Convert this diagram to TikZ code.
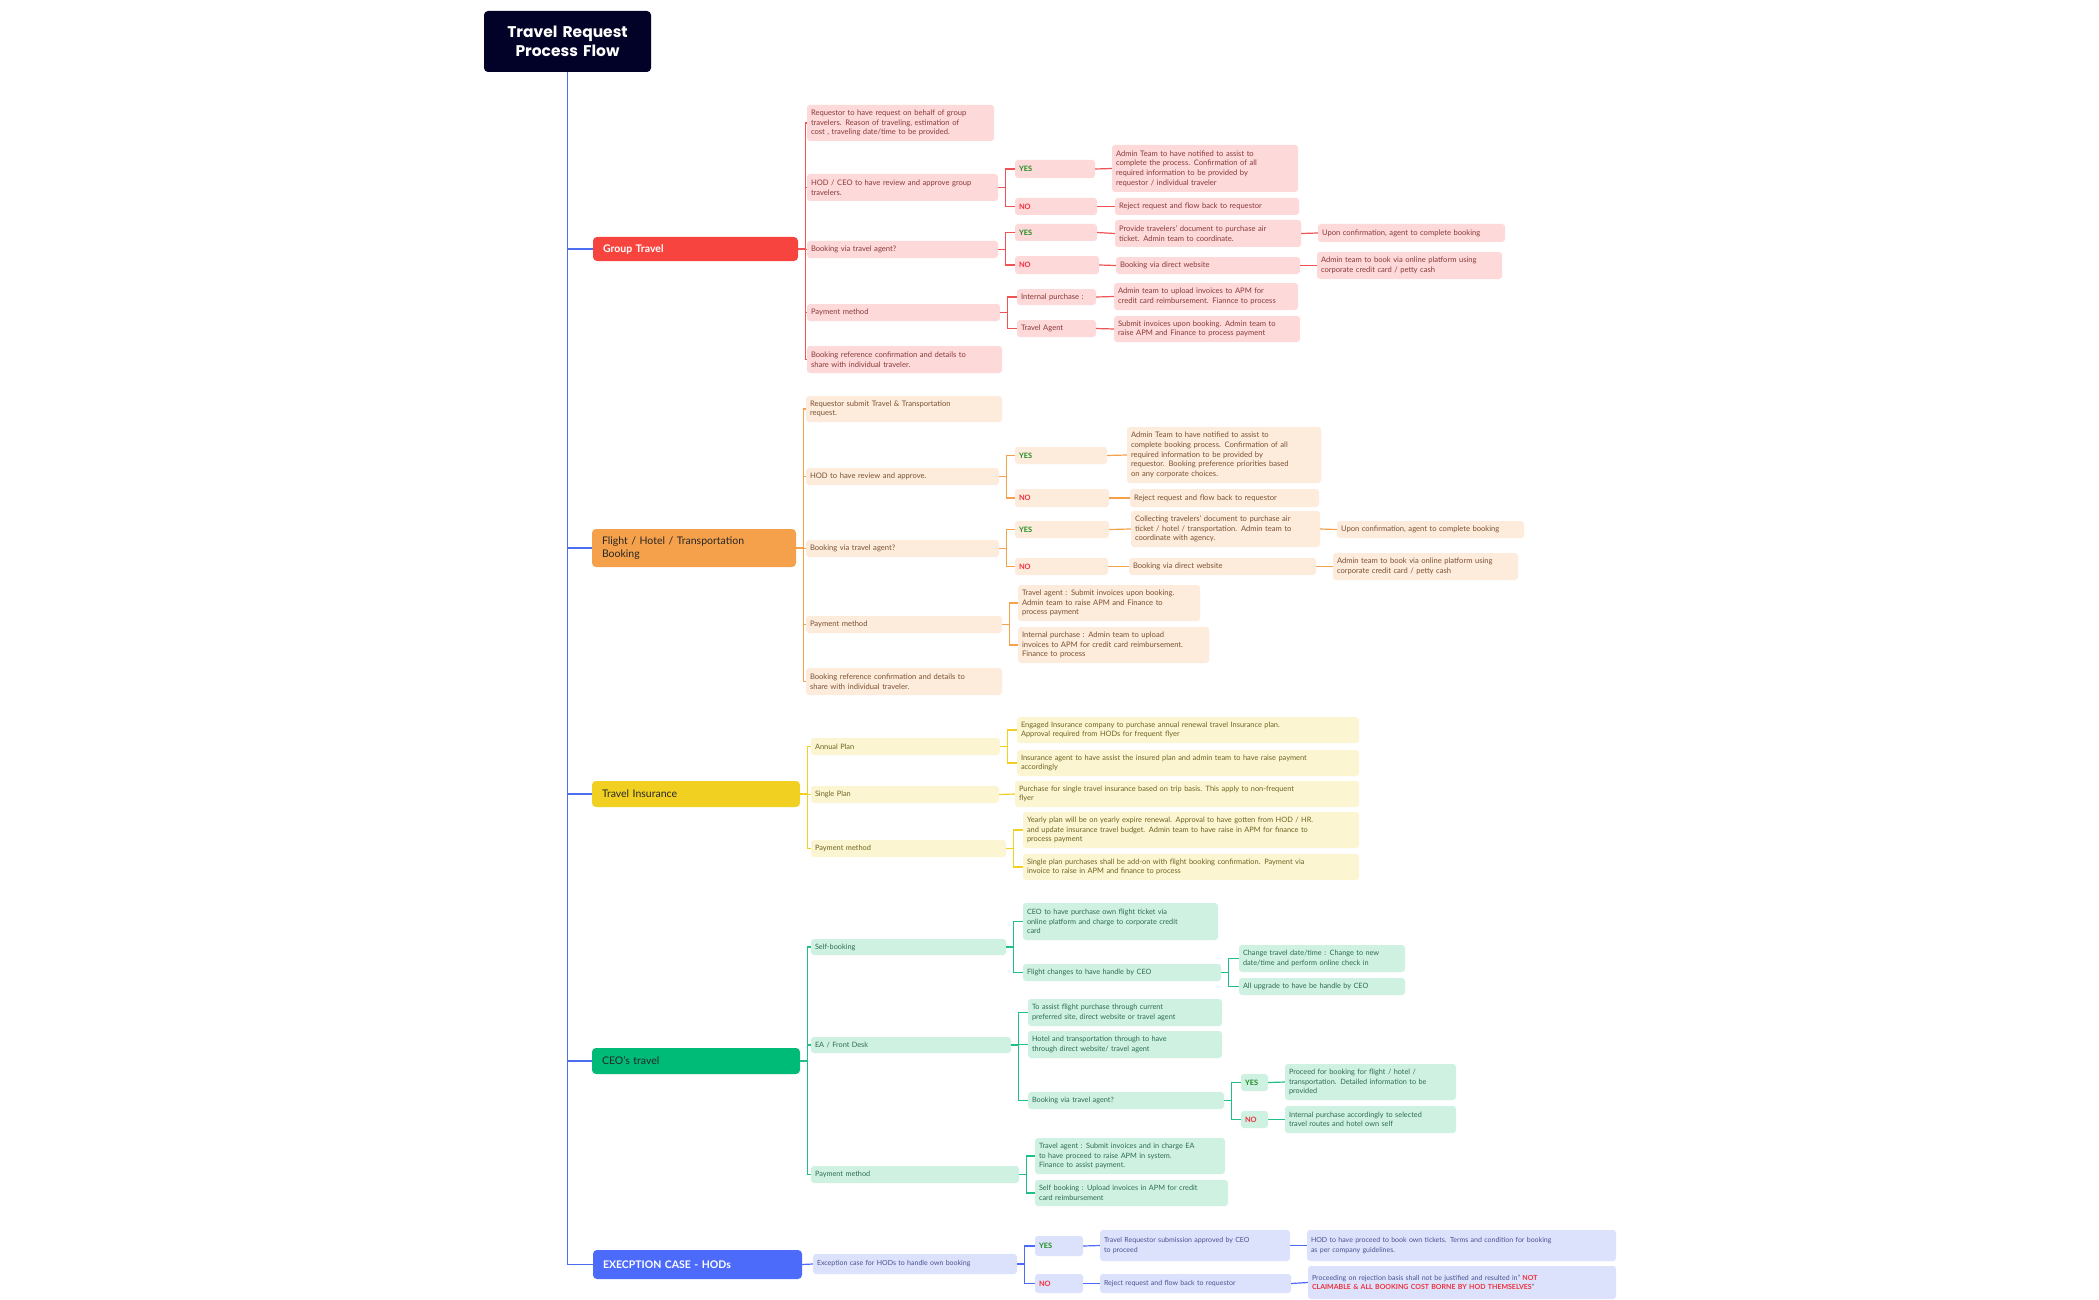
\documentclass[tikz,border=0pt]{standalone}
\usepackage{fontspec}
\setmainfont{Lato}
\newfontfamily\popfont{Poppins}
\definecolor{titlec}{HTML}{020228}
\definecolor{spinec}{HTML}{4B6EF0}
\definecolor{redr}{HTML}{F8443E}\definecolor{redf}{HTML}{FDD9D9}\definecolor{redt}{HTML}{8A3A3A}\definecolor{redl}{HTML}{F05353}
\definecolor{orr}{HTML}{F5A14B}\definecolor{orf}{HTML}{FDEBDC}\definecolor{ort}{HTML}{7A5232}\definecolor{orl}{HTML}{F5A14B}
\definecolor{yer}{HTML}{F2D022}\definecolor{yef}{HTML}{FCF5D2}\definecolor{yet}{HTML}{6E6422}\definecolor{yel}{HTML}{F2D022}
\definecolor{grr}{HTML}{00BA78}\definecolor{grf}{HTML}{CFF1E2}\definecolor{grt}{HTML}{2D6B55}\definecolor{grl}{HTML}{1FBF85}
\definecolor{blr}{HTML}{4D6BFA}\definecolor{blf}{HTML}{DCE2FC}\definecolor{blt}{HTML}{4A5290}\definecolor{bll}{HTML}{4D6BFA}
\definecolor{yesc}{HTML}{1E8C1E}\definecolor{noc}{HTML}{F0303C}
\newcommand\bx[7]{\node[#6, minimum width={(#4-#2)*1pt}, minimum height={(#5-#3)*1pt}, text width={(#4-#2-8)*1pt}] (#1) at ({(#2+#4)/2},{(#3+#5)/2}) {#7};}
\newcommand\lk[3]{\draw[#1] (#2.east) -- ++(7,0) |- (#3.west);}
\newcommand\st[3]{\draw[#1] (#2.east) -- (#3.west);}
\begin{document}
\begin{tikzpicture}[x=1pt,y=-1pt,
  box/.style={rounded corners=3, inner xsep=4, inner ysep=1, align=left, font=\fontsize{7.6}{9.6}\selectfont},
  rb/.style={box, fill=redf, text=redt}, ob/.style={box, fill=orf, text=ort},
  yb/.style={box, fill=yef, text=yet, font=\fontsize{7.4}{9.2}\selectfont},
  gb/.style={box, fill=grf, text=grt, font=\fontsize{7.3}{9.5}\selectfont},
  bb/.style={box, fill=blf, text=blt, font=\fontsize{7}{9.3}\selectfont},
  yesn/.style={font=\fontsize{7.4}{9}\selectfont\bfseries, text=yesc},
  non/.style={font=\fontsize{7.4}{9}\selectfont\bfseries, text=noc},
  root/.style={rounded corners=4, inner xsep=10, inner ysep=1, align=left, font=\fontsize{10.5}{12.5}\selectfont},
  rl/.style={draw=redl, line width=1.2pt}, ol/.style={draw=orl, line width=1.2pt},
  yl/.style={draw=yel, line width=1.2pt}, gl/.style={draw=grl, line width=1.2pt},
  bl/.style={draw=bll, line width=1.2pt}, ml/.style={draw=spinec, line width=1.5pt}]
\useasboundingbox (0,0) rectangle (2099,1300);
\fill[white] (0,0) rectangle (2099,1300);
% title and roots
\bx{title}{484}{11}{651}{72}{rounded corners=4, fill=titlec, text=white, align=center, inner xsep=4, font=\popfont\fontsize{15.5}{19}\selectfont\bfseries}{Travel Request\\Process Flow}
\bx{grp}{599}{237}{792}{261}{root, fill=redr, text=white, font=\fontsize{10.5}{12.5}\selectfont\bfseries}{Group Travel}
\bx{fl}{598}{529}{790}{567}{root, fill=orr, text=black!85}{Flight / Hotel / Transportation\\Booking}
\bx{ins}{598}{781}{794}{807}{root, fill=yer, text=black!85}{Travel Insurance}
\bx{ceo}{598}{1048}{794}{1074}{root, fill=grr, text=black!85}{CEO's travel}
\bx{exc}{599}{1250}{796}{1279}{root, fill=blr, text=white, font=\fontsize{10.5}{12.5}\selectfont\bfseries}{EXECPTION CASE - HODs}
\foreach \r in {grp,fl,ins,ceo,exc}{\draw[ml] (title.south) |- (\r.west);}
% group travel
\bx{g1}{807}{105}{994}{141}{rb}{Requestor to have request on behalf of group\\travelers. Reason of traveling, estimation of\\cost , traveling date/time to be provided.}
\bx{g2}{807}{174}{998}{201}{rb}{HOD / CEO to have review and approve group\\travelers.}
\bx{g3}{807}{241}{998}{258}{rb}{Booking via travel agent?}
\bx{g4}{807}{304}{1000}{321}{rb}{Payment method}
\bx{g5}{807}{346}{1002}{373}{rb}{Booking reference confirmation and details to\\share with individual traveler.}
\bx{g2y}{1015}{160}{1095}{178}{rb,yesn}{YES}
\bx{g2n}{1015}{198}{1097}{215}{rb,non}{NO}
\bx{g2ya}{1112}{145}{1298}{192}{rb}{Admin Team to have notified to assist to\\complete the process. Confirmation of all\\required information to be provided by\\requestor / individual traveler}
\bx{g2na}{1115}{198}{1299}{215}{rb}{Reject request and flow back to requestor}
\bx{g3y}{1015}{224}{1097}{241}{rb,yesn}{YES}
\bx{g3n}{1015}{256}{1099}{274}{rb,non}{NO}
\bx{g3ya}{1115}{220}{1301}{247}{rb}{Provide travelers' document to purchase air\\ticket. Admin team to coordinate.}
\bx{g3na}{1116}{257}{1300}{274}{rb}{Booking via direct website}
\bx{g3yb}{1318}{224}{1505}{242}{rb}{Upon confirmation, agent to complete booking}
\bx{g3nb}{1317}{252}{1502}{279}{rb}{Admin team to book via online platform using\\corporate credit card / petty cash}
\bx{g4a}{1017}{289}{1096}{305}{rb}{Internal purchase :}
\bx{g4aa}{1114}{283}{1298}{310}{rb}{Admin team to upload invoices to APM for\\credit card reimbursement. Fiannce to process}
\bx{g4b}{1017}{320}{1096}{337}{rb}{Travel Agent}
\bx{g4ba}{1114}{316}{1300}{342}{rb}{Submit invoices upon booking. Admin team to\\raise APM and Finance to process payment}
\foreach \c in {g1,g2,g3,g4,g5}{\lk{rl}{grp}{\c}}
\lk{rl}{g2}{g2y}\lk{rl}{g2}{g2n}\lk{rl}{g3}{g3y}\lk{rl}{g3}{g3n}\lk{rl}{g4}{g4a}\lk{rl}{g4}{g4b}
\st{rl}{g2y}{g2ya}\st{rl}{g2n}{g2na}\st{rl}{g3y}{g3ya}\st{rl}{g3n}{g3na}\st{rl}{g3ya}{g3yb}\st{rl}{g3na}{g3nb}\st{rl}{g4a}{g4aa}\st{rl}{g4b}{g4ba}
% flight
\bx{f1}{806}{396}{1002}{422}{ob}{Requestor submit Travel \& Transportation\\request.}
\bx{f2}{806}{468}{999}{485}{ob}{HOD to have review and approve.}
\bx{f3}{806}{540}{999}{557}{ob}{Booking via travel agent?}
\bx{f4}{806}{616}{1002}{633}{ob}{Payment method}
\bx{f5}{806}{668}{1002}{695}{ob}{Booking reference confirmation and details to\\share with individual traveler.}
\bx{f2y}{1015}{447}{1107}{464}{ob,yesn}{YES}
\bx{f2n}{1015}{489}{1109}{507}{ob,non}{NO}
\bx{f2ya}{1127}{427}{1321}{483}{ob}{Admin Team to have notified to assist to\\complete booking process. Confirmation of all\\required information to be provided by\\requestor.  Booking preference priorities based\\on any corporate choices.}
\bx{f2na}{1130}{489}{1319}{507}{ob}{Reject request and flow back to requestor}
\bx{f3y}{1015}{521}{1109}{538}{ob,yesn}{YES}
\bx{f3n}{1015}{558}{1108}{575}{ob,non}{NO}
\bx{f3ya}{1131}{511}{1320}{547}{ob}{Collecting travelers' document to purchase air\\ticket / hotel / transportation. Admin team to\\coordinate with agency.}
\bx{f3na}{1129}{558}{1316}{575}{ob}{Booking via direct website}
\bx{f3yb}{1337}{521}{1524}{538}{ob}{Upon confirmation, agent to complete booking}
\bx{f3nb}{1333}{553}{1518}{580}{ob}{Admin team to book via online platform using\\corporate credit card / petty cash}
\bx{f4a}{1018}{585}{1200}{621}{ob}{Travel agent : Submit invoices upon booking.\\Admin team to raise APM and Finance to\\process payment}
\bx{f4b}{1018}{627}{1209}{663}{ob}{Internal purchase : Admin team to upload\\invoices to APM for credit card reimbursement.\\Finance to process}
\foreach \c in {f1,f2,f3,f4,f5}{\lk{ol}{fl}{\c}}
\lk{ol}{f2}{f2y}\lk{ol}{f2}{f2n}\lk{ol}{f3}{f3y}\lk{ol}{f3}{f3n}\lk{ol}{f4}{f4a}\lk{ol}{f4}{f4b}
\st{ol}{f2y}{f2ya}\st{ol}{f2n}{f2na}\st{ol}{f3y}{f3ya}\st{ol}{f3n}{f3na}\st{ol}{f3ya}{f3yb}\st{ol}{f3na}{f3nb}
% insurance
\bx{i1}{811}{738}{1000}{755}{yb}{Annual Plan}
\bx{i2}{811}{786}{999}{803}{yb}{Single Plan}
\bx{i3}{811}{840}{1006}{857}{yb}{Payment method}
\bx{i1a}{1017}{717}{1359}{743}{yb}{Engaged Insurance company to purchase annual renewal travel Insurance plan.\\Approval required from HODs for frequent flyer}
\bx{i1b}{1017}{750}{1359}{776}{yb}{Insurance agent to have assist the insured plan and admin team to have raise payment\\accordingly}
\bx{i2a}{1015}{781}{1359}{807}{yb}{Purchase for single travel insurance based on  trip basis. This apply to non-frequent\\flyer}
\bx{i3a}{1023}{812}{1359}{848}{yb}{Yearly plan will be on yearly expire renewal. Approval to have gotten from HOD / HR.\\and update insurance travel budget. Admin team to have raise in APM for finance to\\process payment}
\bx{i3b}{1023}{854}{1359}{880}{yb}{Single plan purchases shall be add-on with flight booking confirmation. Payment via\\invoice to raise in APM and finance to process}
\foreach \c in {i1,i2,i3}{\lk{yl}{ins}{\c}}
\lk{yl}{i1}{i1a}\lk{yl}{i1}{i1b}\st{yl}{i2}{i2a}\lk{yl}{i3}{i3a}\lk{yl}{i3}{i3b}
% CEO
\bx{c1}{811}{939}{1006}{955}{gb}{Self-booking}
\bx{c2}{811}{1037}{1011}{1053}{gb}{EA / Front Desk}
\bx{c3}{811}{1166}{1019}{1183}{gb}{Payment method}
\bx{c1a}{1023}{903}{1218}{940}{gb}{CEO to have purchase own flight ticket via\\online platform and charge to corporate credit\\card}
\bx{c1b}{1023}{964}{1221}{981}{gb}{Flight changes to have handle by CEO}
\bx{c1ba}{1239}{945}{1405}{972}{gb}{Change travel date/time : Change to new\\date/time and perform online check in}
\bx{c1bb}{1239}{978}{1405}{995}{gb}{All upgrade to have be handle by CEO}
\bx{c2a}{1028}{999}{1222}{1026}{gb}{To assist flight purchase through current\\preferred site, direct website or travel agent}
\bx{c2b}{1028}{1031}{1222}{1058}{gb}{Hotel and transportation through to have\\through direct website/ travel agent}
\bx{c2c}{1028}{1092}{1224}{1109}{gb}{Booking via travel agent?}
\bx{c2cy}{1241}{1074}{1268}{1091}{gb,yesn,inner xsep=2}{YES}
\bx{c2cn}{1241}{1111}{1268}{1128}{gb,non,inner xsep=2}{NO}
\bx{c2cya}{1285}{1064}{1456}{1100}{gb}{Proceed for booking for flight / hotel /\\transportation. Detailed information to be\\provided}
\bx{c2cna}{1285}{1106}{1456}{1133}{gb}{Internal purchase accordingly to selected\\travel routes and hotel own self}
\bx{c3a}{1035}{1138}{1225}{1174}{gb}{Travel agent : Submit invoices and in charge EA\\to have proceed to raise APM in system.\\Finance to assist payment.}
\bx{c3b}{1035}{1180}{1228}{1206}{gb}{Self booking : Upload invoices in APM for credit\\card reimbursement}
\foreach \c in {c1,c2,c3}{\lk{gl}{ceo}{\c}}
\lk{gl}{c1}{c1a}\lk{gl}{c1}{c1b}\lk{gl}{c1b}{c1ba}\lk{gl}{c1b}{c1bb}
\lk{gl}{c2}{c2a}\lk{gl}{c2}{c2b}\lk{gl}{c2}{c2c}\lk{gl}{c2c}{c2cy}\lk{gl}{c2c}{c2cn}
\st{gl}{c2cy}{c2cya}\st{gl}{c2cn}{c2cna}\lk{gl}{c3}{c3a}\lk{gl}{c3}{c3b}
% exception
\bx{e1}{813}{1254}{1017}{1274}{bb}{Exception case for HODs to handle own booking}
\bx{ey}{1035}{1236}{1083}{1256}{bb,yesn}{YES}
\bx{en}{1035}{1274}{1083}{1293}{bb,non}{NO}
\bx{eya}{1100}{1230}{1290}{1261}{bb}{Travel Requestor submission approved by CEO\\to proceed}
\bx{eyb}{1307}{1230}{1616}{1261}{bb}{HOD to have proceed to book own tickets. Terms and condition for booking\\as per company guidelines.}
\bx{ena}{1100}{1274}{1291}{1293}{bb}{Reject request and flow back to requestor}
\bx{enb}{1308}{1266}{1616}{1299}{bb}{Proceeding on rejection basis shall not be justified and resulted in'' {\color{noc}\bfseries NOT\\CLAIMABLE \& ALL BOOKING COST BORNE BY HOD THEMSELVES}''}
\draw[bl] (exc.east) -- (e1.west);
\lk{bl}{e1}{ey}\lk{bl}{e1}{en}
\st{bl}{ey}{eya}\st{bl}{eya}{eyb}\st{bl}{en}{ena}\st{bl}{ena}{enb}
\end{tikzpicture}
\end{document}
